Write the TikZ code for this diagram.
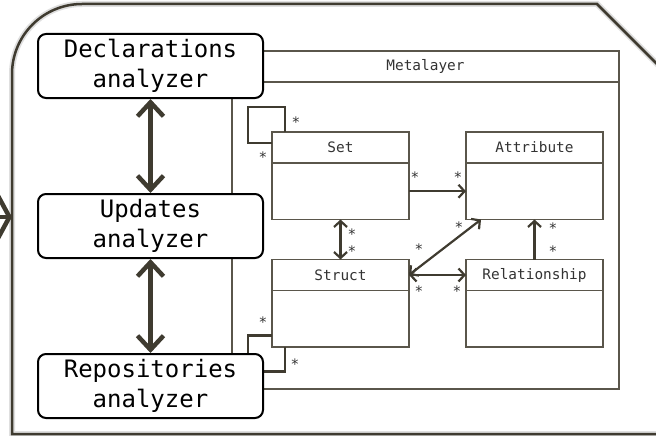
\documentclass[tikz,border=0pt]{standalone}
\usepackage{fontspec}
\setmonofont{DejaVu Sans Mono}
\usetikzlibrary{arrows.meta,positioning,calc}
\definecolor{marco}{HTML}{3F3B30}
\definecolor{linea}{HTML}{5A564B}
\definecolor{texto}{HTML}{333333}
\tikzstyle{analyzer}=[draw=black,line width=2pt,rounded corners=8pt,fill=white,minimum width=225pt,minimum height=64pt,inner sep=0pt,align=center,font=\ttfamily\fontsize{24}{30}\selectfont]
\tikzstyle{clase}=[draw=linea,line width=1.3pt,fill=white,minimum width=137pt,minimum height=31pt,inner sep=0pt,outer sep=0pt,text=texto,font=\ttfamily\fontsize{14.4}{17}\selectfont]
\tikzstyle{cuerpo}=[clase,minimum height=56.5pt]
\tikzstyle{mult}=[inner sep=0pt,text=texto,font=\ttfamily\fontsize{14.4}{17}\selectfont]
\tikzstyle{grueso}=[draw=marco,line width=4.5pt]
\tikzstyle{rel}=[draw=marco,line width=2.2pt]

\begin{document}
\begin{tikzpicture}[x=1pt,y=-1pt,
  barb/.tip={Straight Barb[length=14pt,width=26pt]},
  punta/.tip={Straight Barb[length=6pt,width=13pt]}]
\useasboundingbox (0,0) rectangle (656,436);
% marco exterior
\draw[gray!25,line width=6pt] (660,67) -- (597,4) -- (82,4) arc[start angle=270,end angle=180,radius=70] -- (12,434) -- (660,434);
\draw[marco,line width=2.5pt] (660,67) -- (597,4) -- (82,4) arc[start angle=270,end angle=180,radius=70] -- (12,434) -- (660,434);
\coordinate (entra) at (-30,217);
\coordinate (borde) at (12,217);
\draw[grueso,-{Straight Barb[length=20pt,width=74pt]}] (entra) -- (borde);

% paquete
\node[draw=linea,line width=1.3pt,minimum width=387pt,minimum height=338pt,inner sep=0pt,outer sep=0pt] (meta) at (425.5,220) {};
\node[clase,minimum width=387pt,anchor=north] (metat) at (meta.north) {Metalayer};

\node[clase] (set) at (340.5,147.5) {Set};
\node[cuerpo,below=0pt of set] (setb) {};
\node[clase,right=57pt of set] (attr) {Attribute};
\node[cuerpo,below=0pt of attr] (attrb) {};
\node[clase,below=40pt of setb] (struct) {Struct};
\node[cuerpo,below=0pt of struct] (strb) {};
\node[clase,right=57pt of struct] (rel) {Relationship};
\node[cuerpo,below=0pt of rel] (relb) {};

\draw[rel] ([xshift=13pt]set.north west) -- ++(0,-25) -- ++(-37,0) |- ([yshift=-11pt]set.north west);
\draw[rel] ([yshift=-76pt]struct.north west) -- ++(-24,0) |- ++(37,36) -- ([xshift=13pt]strb.south west);
\draw[rel,-punta] (setb.east) -- (attrb.west);
\draw[rel,punta-punta] (setb.south) -- (struct.north);
\draw[rel,punta-punta] (struct.east) -- ([xshift=15pt]attrb.south west);
\draw[rel,punta-punta] (struct.east) -- (rel.west);
\draw[rel,-punta] (rel.north) -- (attrb.south);

\foreach \x/\y [count=\i] in {296/122,263/157,415/177,458/177,352/234,352/251,459/227,419/249,419/291,457/291,553/228,553/251,263/322,295/364}
  \node[mult] (m\i) at (\x,\y) {*};

% analizadores
\node[analyzer] (decl) at (150.5,66) {Declarations\\analyzer};
\node[analyzer] (upd) at (150.5,226) {Updates\\analyzer};
\node[analyzer] (repo) at (150.5,386) {Repositories\\analyzer};
\draw[grueso,barb-barb] (decl) -- (upd);
\draw[grueso,barb-barb] (upd) -- (repo);
\end{tikzpicture}
\end{document}
